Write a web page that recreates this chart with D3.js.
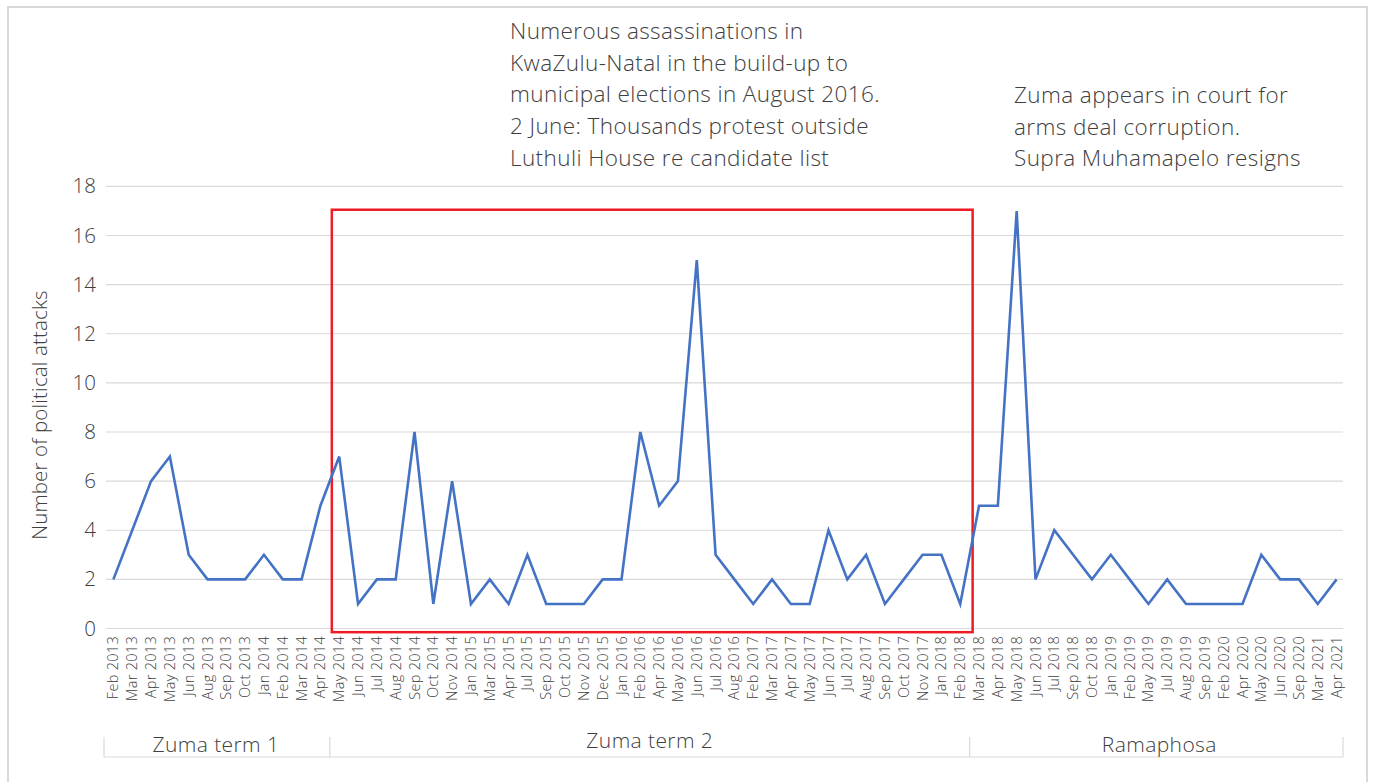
<!DOCTYPE html>
<meta charset="utf-8">
<script src="https://d3js.org/d3.v7.min.js"></script>
<body>
    <style type="text/css">
        html, body { margin: 0; padding: 0; background: #fff; }
        text { font-family: "Open Sans", "Liberation Sans", sans-serif; font-weight: 300; fill: #404040; }
    </style>
    <svg width="1375" height="782"></svg>
    <script>

        var months = ['Feb 2013', 'Mar 2013', 'Apr 2013', 'May 2013', 'Jun 2013', 'Aug 2013', 'Sep 2013', 'Oct 2013',
            'Jan 2014', 'Feb 2014', 'Mar 2014', 'Apr 2014', 'May 2014', 'Jun 2014', 'Jul 2014', 'Aug 2014', 'Sep 2014',
            'Oct 2014', 'Nov 2014', 'Jan 2015', 'Mar 2015', 'Apr 2015', 'Jul 2015', 'Sep 2015', 'Oct 2015', 'Nov 2015',
            'Dec 2015', 'Jan 2016', 'Feb 2016', 'Apr 2016', 'May 2016', 'Jun 2016', 'Jul 2016', 'Aug 2016', 'Feb 2017',
            'Mar 2017', 'Apr 2017', 'May 2017', 'Jun 2017', 'Jul 2017', 'Aug 2017', 'Sep 2017', 'Oct 2017', 'Nov 2017',
            'Jan 2018', 'Feb 2018', 'Mar 2018', 'Apr 2018', 'May 2018', 'Jun 2018', 'Jul 2018', 'Sep 2018', 'Oct 2018',
            'Jan 2019', 'Feb 2019', 'May 2019', 'Jul 2019', 'Aug 2019', 'Sep 2019', 'Feb 2020', 'Apr 2020', 'May 2020',
            'Jun 2020', 'Sep 2020', 'Mar 2021', 'Apr 2021'];

        var attacks = [2, 4, 6, 7, 3, 2, 2, 2,
            3, 2, 2, 5, 7, 1, 2, 2, 8,
            1, 6, 1, 2, 1, 3, 1, 1, 1,
            2, 2, 8, 5, 6, 15, 3, 2, 1,
            2, 1, 1, 4, 2, 3, 1, 2, 3,
            3, 1, 5, 5, 17, 2, 4, 3, 2,
            3, 2, 1, 2, 1, 1, 1, 1, 3,
            2, 2, 1, 2];

        var yTicks = [0, 2, 4, 6, 8, 10, 12, 14, 16, 18];

        var terms = ['Zuma term 1', 'Zuma term 2', 'Ramaphosa'];
        var termSizes = [12, 34, 20];

        var noteLeft = ['Numerous assassinations in', 'KwaZulu-Natal in the build-up to',
            'municipal elections in August 2016.', '2 June: Thousands protest outside',
            'Luthuli House re candidate list'];
        var noteRight = ['Zuma appears in court for', 'arms deal corruption.', 'Supra Muhamapelo resigns'];

        var svg = d3.select('svg');

        // outer frame
        svg.append('rect').attr('x', 8).attr('y', 7).attr('width', 1359).attr('height', 780)
            .attr('fill', 'none').attr('stroke', '#d9d9d9').attr('stroke-width', 2);

        var x = d3.scaleBand().domain(months).range([104, 1346]);
        var y = d3.scaleLinear().domain([0, 18]).range([628.5, 186.4]);
        var cx = function (m) { return x(m) + x.bandwidth() / 2; };

        // grid
        svg.append('g').selectAll('line').data(yTicks).enter().append('line')
            .attr('x1', 106).attr('x2', 1343)
            .attr('y1', function (d) { return y(d); }).attr('y2', function (d) { return y(d); })
            .attr('stroke', '#d9d9d9').attr('stroke-width', 1.2);

        var yAxis = svg.append('g').attr('transform', 'translate(104,0)')
            .call(d3.axisLeft(y).tickValues(yTicks).tickSize(0).tickPadding(8));
        yAxis.select('.domain').remove();
        yAxis.selectAll('text').style('font-size', '20.5px').attr('fill', '#333');

        svg.append('text').attr('transform', 'translate(47,415) rotate(-90)')
            .attr('text-anchor', 'middle').style('font-size', '20.5px').style('letter-spacing', '0.15px')
            .attr('fill', '#333')
            .text('Number of political attacks');

        // x labels
        var xAxis = svg.append('g').attr('transform', 'translate(0,630)')
            .call(d3.axisBottom(x).tickSize(0).tickPadding(0));
        xAxis.select('.domain').remove();
        xAxis.selectAll('text')
            .attr('transform', 'rotate(-90)')
            .attr('text-anchor', 'end')
            .attr('x', -6).attr('y', 0).attr('dy', '0.35em')
            .style('font-size', '14.5px').style('letter-spacing', '0.3px').attr('fill', '#404040');

        // red highlight box around Zuma term 2
        var start = termSizes[0], end = termSizes[0] + termSizes[1] - 1;
        svg.append('rect')
            .attr('x', x(months[start]) + 2).attr('y', y(17.05))
            .attr('width', x(months[end]) + x.bandwidth() - x(months[start]) + 1)
            .attr('height', y(-0.15) - y(17.05))
            .attr('fill', 'none').attr('stroke', '#ee1c25').attr('stroke-width', 2.5);

        // line
        var line = d3.line()
            .x(function (d, i) { return cx(months[i]); })
            .y(function (d) { return y(d); });
        svg.append('path').datum(attacks)
            .attr('d', line).attr('fill', 'none')
            .attr('stroke', '#4472c4').attr('stroke-width', 2.6).attr('stroke-linejoin', 'miter');

        // term bracket
        var bounds = [0];
        termSizes.forEach(function (s, i) { bounds.push(bounds[i] + s); });
        var edge = function (k) { return k < months.length ? x(months[k]) : 1343; };
        var br = svg.append('g');
        br.append('line').attr('x1', edge(0)).attr('x2', edge(months.length))
            .attr('y1', 757).attr('y2', 757).attr('stroke', '#d9d9d9').attr('stroke-width', 1.2);
        br.selectAll('.tick').data(bounds).enter().append('line')
            .attr('x1', function (d) { return edge(d); }).attr('x2', function (d) { return edge(d); })
            .attr('y1', 737).attr('y2', 757).attr('stroke', '#d9d9d9').attr('stroke-width', 1.2);
        br.selectAll('text').data(terms).enter().append('text')
            .attr('x', function (d, i) { return (edge(bounds[i]) + edge(bounds[i + 1])) / 2 + (i === 0 ? -1 : i === 2 ? 3 : 0); })
            .attr('y', function (d, i) { return i === 1 ? 748 : 752; })
            .attr('text-anchor', 'middle').style('font-size', '21px').style('letter-spacing', '0.4px')
            .attr('fill', '#222')
            .text(function (d) { return d; });

        // annotations
        svg.append('g').selectAll('text').data(noteLeft).enter().append('text')
            .attr('x', 510).attr('y', function (d, i) { return 39 + i * 31.7; })
            .style('font-size', '22.5px').style('letter-spacing', '0.4px').attr('fill', '#444')
            .text(function (d) { return d; });
        svg.append('g').selectAll('text').data(noteRight).enter().append('text')
            .attr('x', 1014).attr('y', function (d, i) { return 103 + i * 31.7; })
            .style('font-size', '22.5px').style('letter-spacing', '0.4px').attr('fill', '#444')
            .text(function (d) { return d; });

    </script>
</body>
